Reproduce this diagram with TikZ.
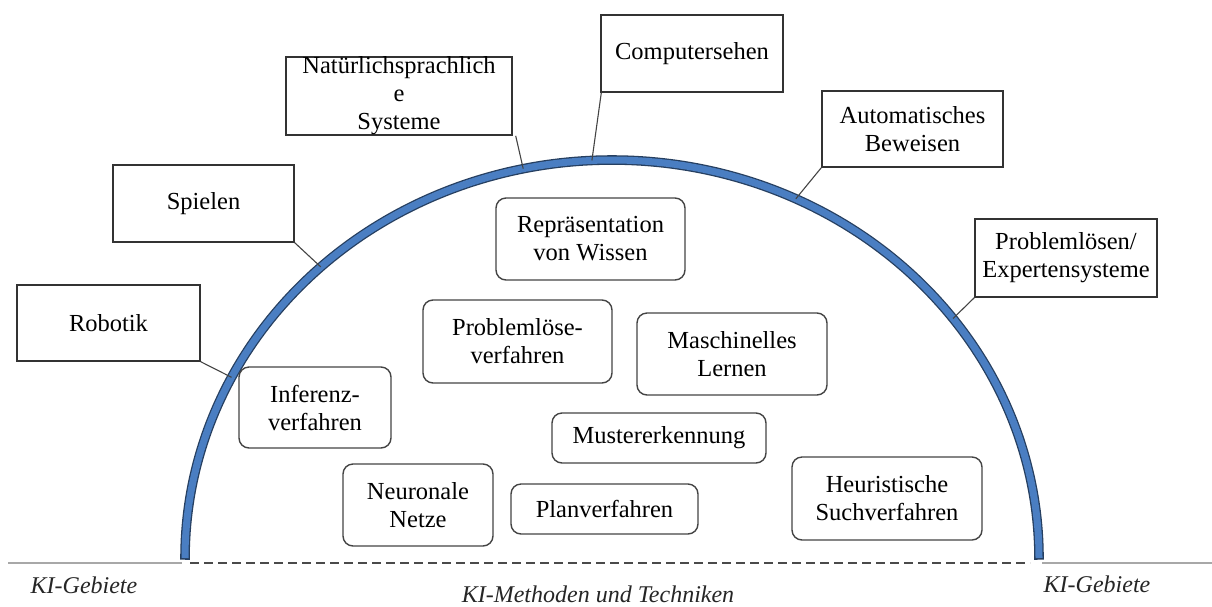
\documentclass[tikz,border=0pt]{standalone}
\usepackage{fontspec}
\setmainfont{Liberation Serif}
\newcommand{\boxfont}{\fontsize{24.5}{28}\selectfont}
\newcommand{\areafont}{\fontsize{24}{28}\selectfont\itshape}
\definecolor{boxline}{HTML}{333333}
\definecolor{linkgray}{HTML}{444444}
\definecolor{arcblue}{HTML}{4A7EC2}
\definecolor{arcedge}{HTML}{263F60}
\definecolor{basegray}{HTML}{A8A8A8}
\definecolor{dashgray}{HTML}{4A4A4A}
\tikzset{
  field/.style={draw=boxline, line width=1.4pt, rectangle, inner sep=0pt,
    align=center, font=\boxfont, fill=white},
  method/.style={field, draw=linkgray, rounded corners=10pt},
  link/.style={draw=linkgray, line width=1.1pt},
  area/.style={font=\areafont, text=black!85, anchor=base},
}
\begin{document}
\begin{tikzpicture}[x=1pt, y=-1pt]
\useasboundingbox (0,0) rectangle (1212,606);

% ground line: solid outside, dashed under the dome
\coordinate (gL0) at (8,563);
\coordinate (gL1) at (182,563);
\coordinate (gD0) at (190,563);
\coordinate (gD1) at (1030,563);
\coordinate (gR0) at (1042,563);
\coordinate (gR1) at (1212,563);
\draw[basegray, line width=1.5pt] (gL0) -- (gL1);
\draw[basegray, line width=1.5pt] (gR0) -- (gR1);
\draw[dashgray, line width=2pt, dash pattern=on 9pt off 5pt] (gD0) -- (gD1);

% the dome: dark rim under a blue band
\draw[arcedge, line width=9.6pt, line join=round]
  plot[domain=180.25:-0.25, samples=181] ({612+427*cos(\x)}, {558-398*sin(\x)});
\draw[arcblue, line width=7pt, line join=round]
  plot[domain=180:0, samples=181] ({612+427*cos(\x)}, {558-398*sin(\x)});

% attachment points on the dome
\coordinate (pRob) at ({612+427*cos(153)}, {558-398*sin(153)});
\coordinate (pSpi) at ({612+427*cos(133)}, {558-398*sin(133)});
\coordinate (pNat) at ({612+427*cos(102)}, {558-398*sin(102)});
\coordinate (pCom) at ({612+427*cos(92.7)}, {558-398*sin(92.7)});
\coordinate (pAut) at ({612+427*cos(64.5)}, {558-398*sin(64.5)});
\coordinate (pPro) at ({612+427*cos(37)}, {558-398*sin(37)});

% application fields (outside)
\node[field, minimum width=183pt, minimum height=76pt] (rob) at (108.5,323) {Robotik};
\node[field, minimum width=181pt, minimum height=77pt] (spi) at (203.5,203.5) {Spielen};
\node[field, minimum width=226pt, minimum height=78pt] (nat) at (399,96) {Natürlichsprachlich\\e\\Systeme};
\node[field, minimum width=182pt, minimum height=77pt] (com) at (692,53.5) {Computersehen};
\node[field, minimum width=181pt, minimum height=76pt] (aut) at (912.5,129) {Automatisches\\Beweisen};
\node[field, minimum width=182pt, minimum height=78pt] (pro) at (1066,258) {Problemlösen/\\Expertensysteme};

\draw[link] (rob.south east) -- (pRob);
\draw[link] (spi.south east) -- (pSpi);
\draw[link] ([xshift=3pt]nat.south east) -- (pNat);
\draw[link] ([xshift=1pt]com.south west) -- (pCom);
\draw[link] (aut.south west) -- (pAut);
\draw[link] (pro.south west) -- (pPro);

% methods and techniques (inside)
\node[method, minimum width=189pt, minimum height=82pt] (rep) at (590.5,239) {Repräsentation\\von Wissen};
\node[method, minimum width=189pt, minimum height=83pt] (plv) at (517.5,341.5) {Problemlöse-\\verfahren};
\node[method, minimum width=190pt, minimum height=82pt] (mas) at (732,354) {Maschinelles\\Lernen};
\node[method, minimum width=152pt, minimum height=81pt] (inf) at (315,407.5) {Inferenz-\\verfahren};
\node[method, minimum width=214pt, minimum height=50pt] (mus) at (659,438) {Mustererkennung};
\node[method, minimum width=150pt, minimum height=82pt] (neu) at (418,505) {Neuronale\\Netze};
\node[method, minimum width=187pt, minimum height=50pt] (pla) at (604.5,509) {Planverfahren};
\node[method, minimum width=190pt, minimum height=83pt] (heu) at (887,498.5) {Heuristische\\Suchverfahren};

% region labels
\node[area] (kiL) at (84,593) {KI-Gebiete};
\node[area] (kiR) at (1097,592) {KI-Gebiete};
\node[area] (kiM) at (598,602) {KI-Methoden und Techniken};
\end{tikzpicture}
\end{document}
